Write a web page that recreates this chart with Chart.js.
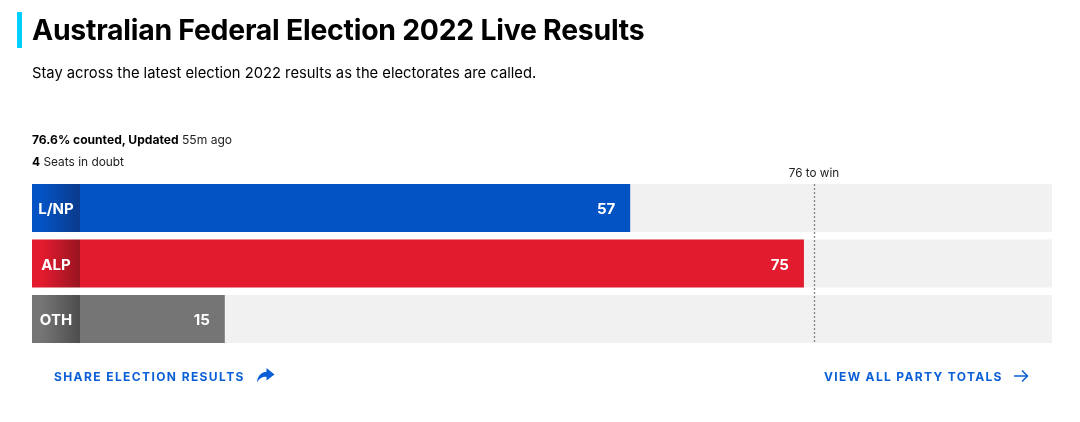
<!DOCTYPE html>
<html>
<head>
<meta charset="utf-8">
<script src="https://cdn.jsdelivr.net/npm/chart.js@4/dist/chart.umd.min.js"></script>
<style>
    html, body { margin: 0; padding: 0; background: #fff; }
    body { width: 1080px; height: 422px; position: relative; overflow: hidden; font-family: Inter, Roboto, sans-serif; color: #000; }
    #chart-box { position: absolute; left: 0; top: 0; width: 1080px; height: 422px; }
    .accent { position: absolute; left: 17px; top: 12px; width: 5px; height: 36px; background: #00cfff; }
    h1 { position: absolute; left: 32px; top: 12px; margin: 0; font-size: 28.4px; line-height: 36px; font-weight: 700; letter-spacing: -0.25px; white-space: nowrap; }
    .sub { position: absolute; left: 32px; top: 64px; font-size: 14.74px; line-height: 18px; white-space: nowrap; }
    .counted { position: absolute; left: 32px; top: 132px; font-size: 12.1px; line-height: 16px; color: #222; white-space: nowrap; }
    .doubt { position: absolute; left: 32px; top: 153.5px; font-size: 11.9px; line-height: 16px; color: #222; white-space: nowrap; }
    b { color: #000; font-weight: 700; }
    .link { position: absolute; top: 369px; font-size: 12px; line-height: 16px; font-weight: 700; color: #0a5fd6; white-space: nowrap; }
    .link svg { position: absolute; top: -2px; }
</style>
</head>
<body>
<div id="chart-box"><canvas id="seats-chart" width="1080" height="422"></canvas></div>
<div class="accent"></div>
<h1>Australian Federal Election 2022 Live Results</h1>
<div class="sub">Stay across the latest election 2022 results as the electorates are called.</div>
<div class="counted"><b>76.6% counted, Updated</b> 55m ago</div>
<div class="doubt"><b>4</b> Seats in doubt</div>
<div class="link" style="left:54px;letter-spacing:1.4px">SHARE ELECTION RESULTS
    <svg style="left:201px" width="20" height="18" viewBox="0 0 20 18"><path d="M11.5 1 L19.5 7.5 L11.5 13.5 V9.8 C7 9.6 4 11.5 2 15.5 C2.3 9.5 6 5 11.5 4.7 Z" fill="#0a5fd6"/></svg>
</div>
<div class="link" style="left:824px;letter-spacing:1.34px">VIEW ALL PARTY TOTALS
    <svg style="left:189px" width="16" height="18" viewBox="0 0 16 18"><path d="M1 9 H14.5 M9 3.5 L14.5 9 L9 14.5" fill="none" stroke="#0a5fd6" stroke-width="1.5"/></svg>
</div>
<script>
const parties = ["L/NP", "ALP", "OTH"]
const seats = [57, 75, 15]
const barColors = ["#0353c4", "#e31b2f", "#757575"]
const tabColors = ["#0a3a8c", "#981520", "#4d4d4d"]
const seatsToWin = 76
const winLabel = "76 to win"
const axisMax = 100.7

const tracksAndTabs = {
    id: "tracksAndTabs",
    beforeDraw(chart) {
        const { ctx, chartArea } = chart
        const meta = chart.getDatasetMeta(0)
        meta.data.forEach((bar, i) => {
            const top = bar.y - bar.height / 2
            ctx.fillStyle = "#f1f1f1"
            ctx.fillRect(chartArea.left, top, chartArea.width, bar.height)

            const gradient = ctx.createLinearGradient(32, 0, chartArea.left, 0)
            gradient.addColorStop(0, barColors[i])
            gradient.addColorStop(0.2, barColors[i])
            gradient.addColorStop(1, tabColors[i])
            ctx.fillStyle = gradient
            ctx.fillRect(32, top, chartArea.left - 32, bar.height)
        })
    },
}

const valuesAndTarget = {
    id: "valuesAndTarget",
    afterDatasetsDraw(chart) {
        const { ctx, chartArea, scales } = chart
        const meta = chart.getDatasetMeta(0)

        ctx.save()
        ctx.fillStyle = "#fff"
        ctx.font = "700 15px Inter, Roboto, sans-serif"
        ctx.textBaseline = "middle"
        meta.data.forEach((bar, i) => {
            ctx.textAlign = "right"
            ctx.fillText(String(seats[i]), bar.x - 15, bar.y + 1.5)
            ctx.textAlign = "center"
            ctx.fillText(parties[i], (32 + chartArea.left) / 2, bar.y + 1.5)
        })

        const x = Math.round(scales.x.getPixelForValue(seatsToWin)) + 0.5
        ctx.strokeStyle = "#8c8c8c"
        ctx.lineWidth = 1.4
        ctx.setLineDash([2, 2])
        ctx.beginPath()
        ctx.moveTo(x, meta.data[0].y - meta.data[0].height / 2)
        ctx.lineTo(x, chartArea.bottom - 3.5)
        ctx.stroke()

        ctx.fillStyle = "#222"
        ctx.font = "11.7px Inter, Roboto, sans-serif"
        ctx.textAlign = "center"
        ctx.fillText(winLabel, x - 0.5, 173)
        ctx.restore()
    },
}

new Chart(document.getElementById("seats-chart"), {
    type: "bar",
    data: {
        labels: parties,
        datasets: [
            {
                data: seats,
                backgroundColor: barColors,
                borderWidth: 0,
                barPercentage: 0.865,
                categoryPercentage: 1,
            },
        ],
    },
    options: {
        indexAxis: "y",
        responsive: false,
        animation: false,
        layout: {
            padding: { left: 32, right: 28, top: 180.25, bottom: 75.25 },
        },
        plugins: {
            legend: { display: false },
            tooltip: { enabled: false },
        },
        scales: {
            x: {
                display: false,
                min: 0,
                max: axisMax,
            },
            y: {
                afterFit(scale) {
                    scale.width = 48
                },
                border: { display: false },
                grid: { display: false, drawTicks: false },
                ticks: { display: false },
            },
        },
    },
    plugins: [tracksAndTabs, valuesAndTarget],
})
</script>
</body>
</html>
